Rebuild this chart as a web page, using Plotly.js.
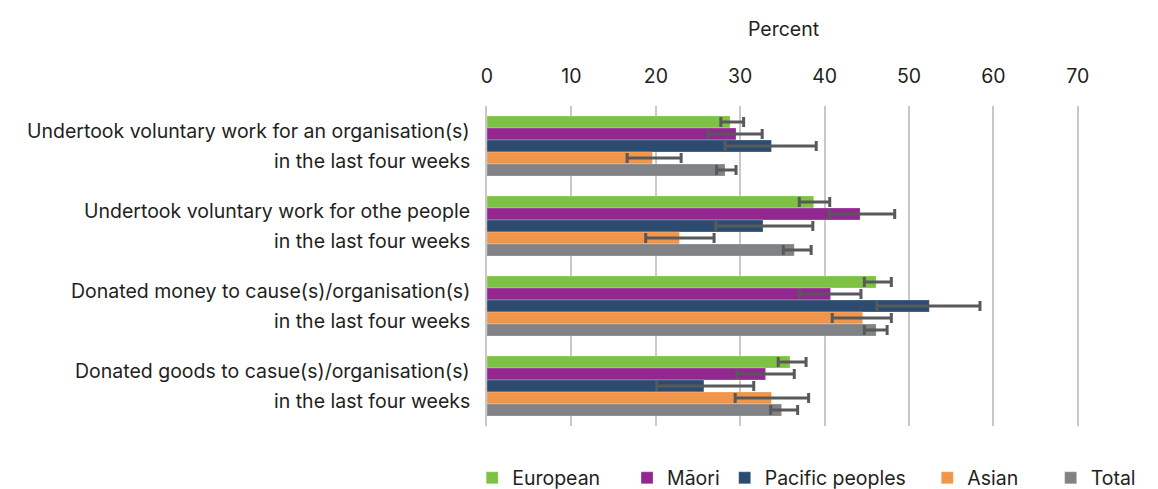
<!DOCTYPE html>
<html>
<head>
<meta charset="utf-8">
<script src="https://cdn.plot.ly/plotly-3.0.1.min.js"></script>
<style>
  html, body { margin: 0; padding: 0; background: #fff; }
  #plotArea { width: 1158px; height: 489px; }
</style>
</head>
<body>
<div id="plotArea"></div>
<script>
// Categories, each label split over two lines
var categories = ["vol_org", "vol_people", "money", "goods"];
var labelLine1 = [
    "Undertook voluntary work for an organisation(s)",
    "Undertook voluntary work for othe people",
    "Donated money to cause(s)/organisation(s)",
    "Donated goods to casue(s)/organisation(s)"
];
var labelLine2 = [
    "in the last four weeks",
    "in the last four weeks",
    "in the last four weeks",
    "in the last four weeks"
];

var groups = ["European", "Māori", "Pacific peoples", "Asian", "Total"];
var colours = ["#7dc242", "#92278f", "#2b4c6f", "#f0954a", "#808285"];
// extra room after each legend entry (non-breaking spaces)
var legendPad = [4, 0, 3, 5, 0];

// Percent values, with lower / upper confidence limits
var european = [28.8, 38.7, 46.1, 35.9];
var europeanLow = [27.7, 37.0, 44.7, 34.5];
var europeanHigh = [30.4, 40.6, 47.9, 37.8];

var maori = [29.5, 44.2, 40.7, 33.0];
var maoriLow = [26.2, 40.5, 37.0, 29.6];
var maoriHigh = [32.6, 48.3, 44.3, 36.4];

var pacific = [33.7, 32.7, 52.4, 25.7];
var pacificLow = [28.2, 27.1, 46.2, 20.1];
var pacificHigh = [39.0, 38.6, 58.4, 31.6];

var asian = [19.6, 22.8, 44.5, 33.7];
var asianLow = [16.6, 18.8, 40.9, 29.4];
var asianHigh = [23.0, 26.9, 47.9, 38.1];

var total = [28.2, 36.4, 46.1, 34.9];
var totalLow = [27.2, 35.1, 44.7, 33.6];
var totalHigh = [29.5, 38.4, 47.4, 36.8];

var values = [european, maori, pacific, asian, total];
var lows = [europeanLow, maoriLow, pacificLow, asianLow, totalLow];
var highs = [europeanHigh, maoriHigh, pacificHigh, asianHigh, totalHigh];

var data = groups.map(function(name, i){
    return {
        type: "bar",
        orientation: "h",
        name: name + "\u00a0".repeat(legendPad[i]),
        y: categories,
        x: values[i],
        marker: {color: colours[i], line: {color: "rgba(255,255,255,0.5)", width: 0.5}},
        error_x: {
            type: "data",
            symmetric: false,
            array: highs[i].map((h, k) => h - values[i][k]),
            arrayminus: lows[i].map((l, k) => values[i][k] - l),
            color: "#58595b",
            thickness: 3,
            width: 5
        },
        hoverinfo: "x+name"
    };
});

// two-line category labels with wider line spacing
var annotations = [];
categories.forEach(function(cat, i){
    annotations.push({xref: "paper", yref: "y", x: 0, y: cat, xanchor: "right", yanchor: "middle",
        xshift: -15, yshift: 15, text: labelLine1[i], showarrow: false});
    annotations.push({xref: "paper", yref: "y", x: 0, y: cat, xanchor: "right", yanchor: "middle",
        xshift: -15, yshift: -15, text: labelLine2[i], showarrow: false});
});

var layout = {
    width: 1158,
    height: 489,
    margin: {l: 486.5, r: 78, t: 106, b: 63, autoexpand: false},
    paper_bgcolor: "#fff",
    plot_bgcolor: "#fff",
    font: {family: "Inter, Roboto, sans-serif", size: 19.5, color: "#231f20"},
    barmode: "group",
    bargap: 0.25,
    bargroupgap: 0,
    showlegend: true,
    legend: {
        orientation: "h",
        x: -0.025,
        xanchor: "left",
        y: -0.163,
        yanchor: "middle",
        font: {size: 19.5},
        traceorder: "normal",
        itemwidth: 30
    },
    xaxis: {
        side: "top",
        range: [0, 70.25],
        tickvals: [0, 10, 20, 30, 40, 50, 60, 70],
        showgrid: true,
        gridcolor: "#c8c8c8",
        gridwidth: 1.5,
        zeroline: false,
        ticks: "",
        ticklabelstandoff: 18,
        title: {text: "Percent", standoff: 22, font: {size: 19.5}},
        fixedrange: true
    },
    yaxis: {
        autorange: "reversed",
        showticklabels: false,
        ticks: "",
        showgrid: false,
        zeroline: false,
        showline: true,
        linecolor: "#c8c8c8",
        linewidth: 1.5,
        fixedrange: true
    },
    annotations: annotations
};

Plotly.newPlot("plotArea", data, layout, {displayModeBar: false});
</script>
</body>
</html>
